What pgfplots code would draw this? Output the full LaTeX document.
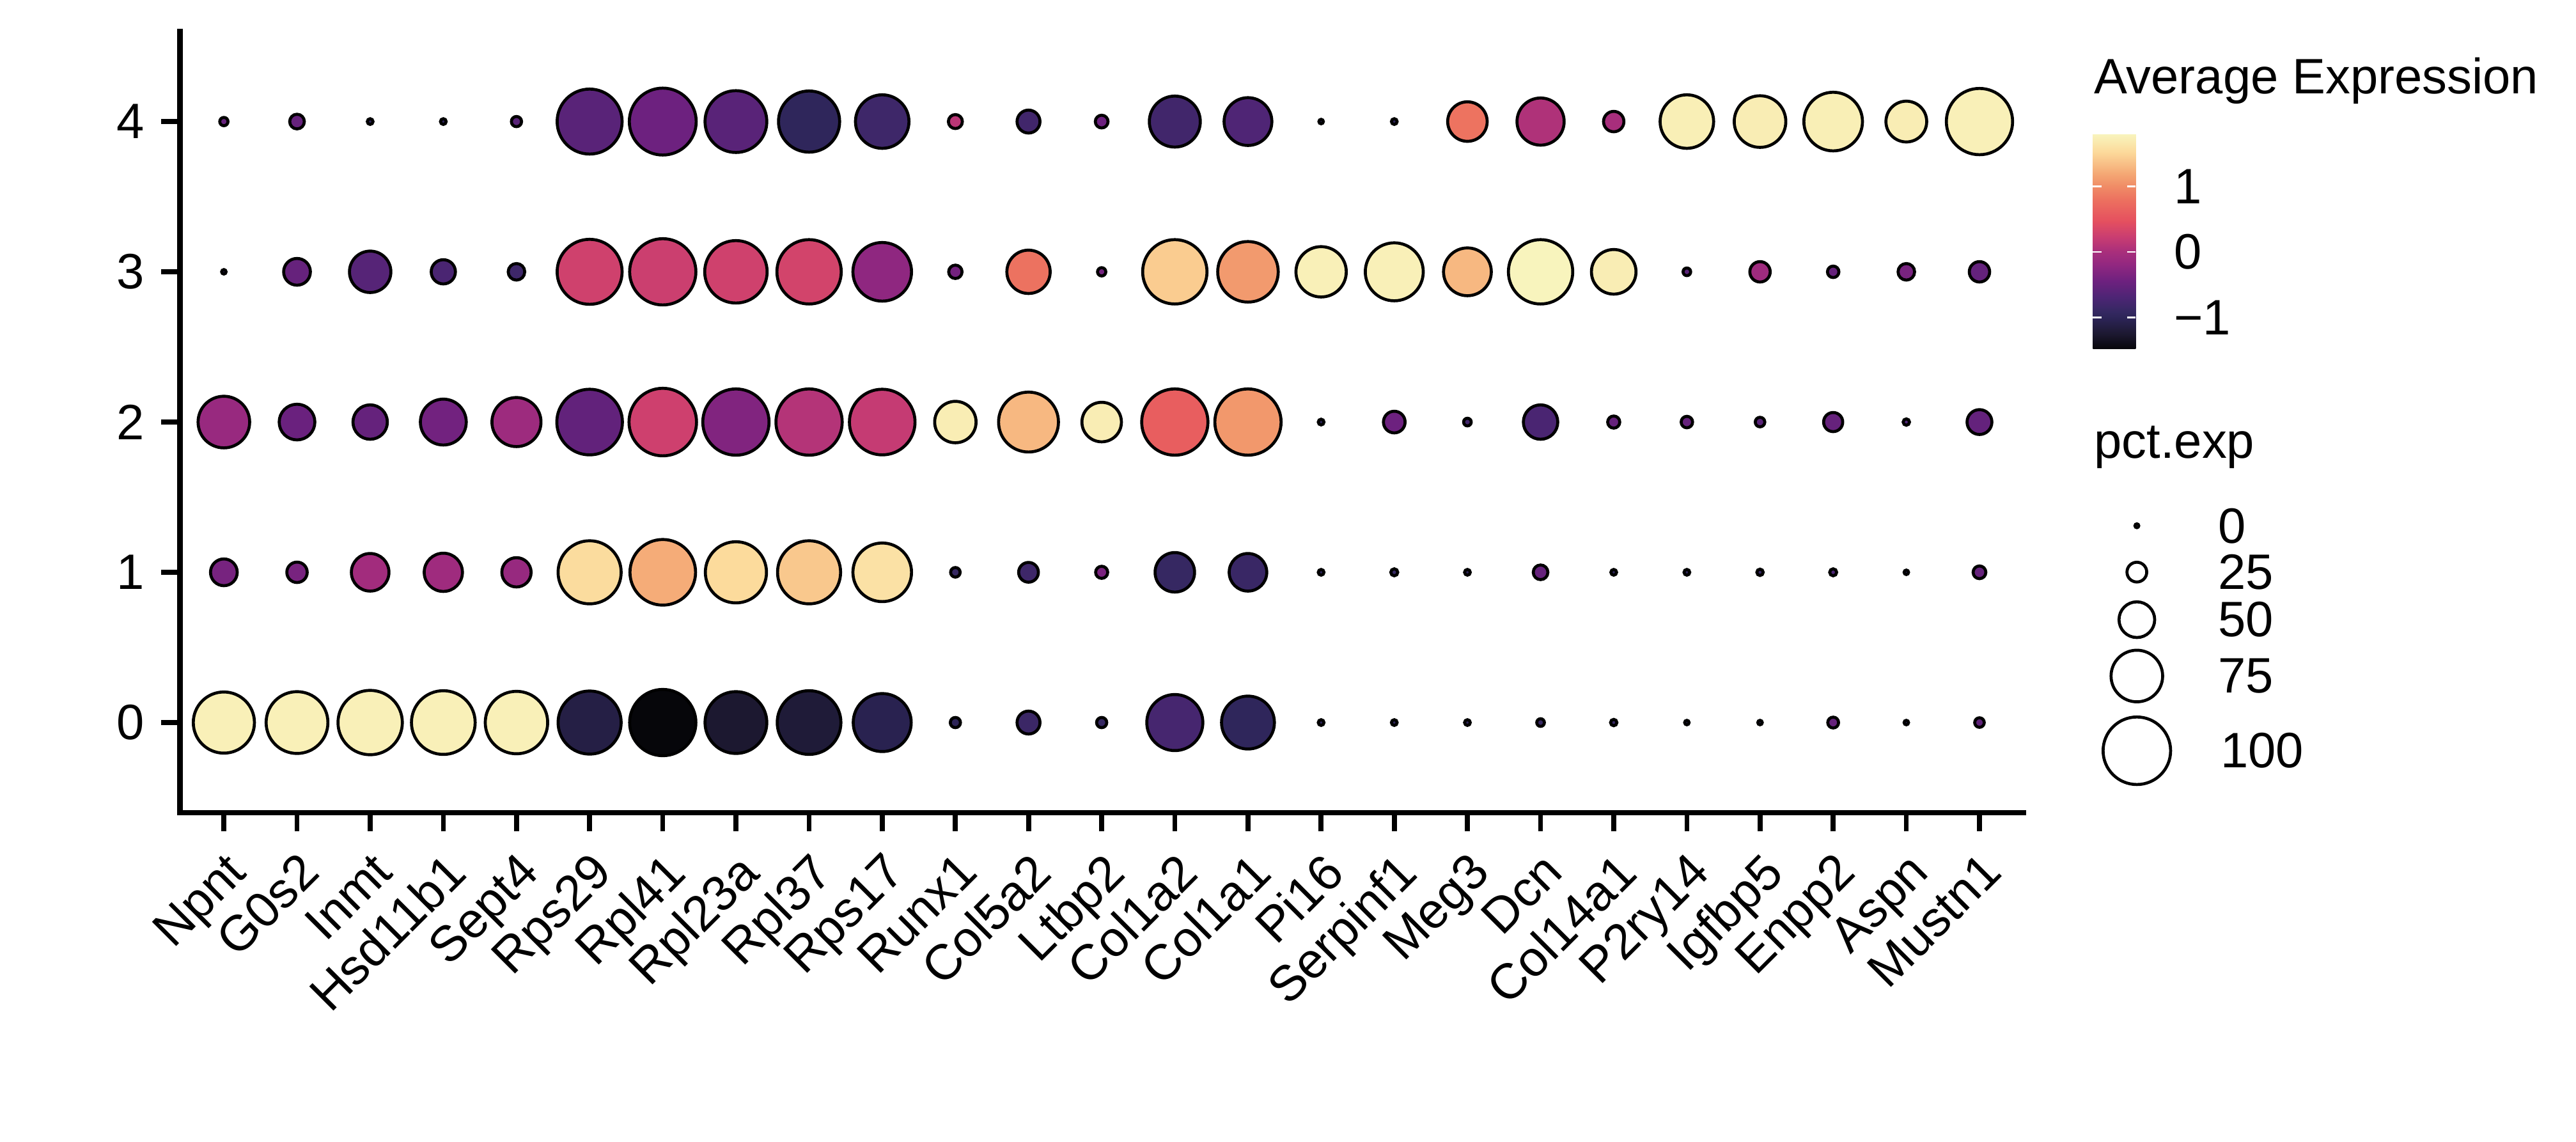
\documentclass[border=0pt]{standalone}
\usepackage{fontspec}
\setmainfont{Liberation Sans}
\usepackage{pgfplots}
\usepackage{pgfplotstable}
\pgfplotsset{compat=1.18}
\newcommand{\chartfont}{\fontsize{12.5}{15}\selectfont}

% cluster rows: x = gene index, y = cluster, pct = percent expressed, avg = scaled average expression
\pgfplotstableread{
x y pct avg
0 0 90 1.75
1 0 91 1.75
2 0 95 1.75
3 0 94 1.75
4 0 92 1.75
5 0 93 -1.12
6 0 98 -1.48
7 0 91 -1.25
8 0 94 -1.20
9 0 85 -1.05
10 0 10 -1.00
11 0 30 -0.85
12 0 10 -0.90
13 0 82 -0.75
14 0 77 -0.97
15 0 3 -1.00
16 0 3 -1.00
17 0 3 -1.00
18 0 6 -0.90
19 0 4 -0.90
20 0 1 -1.00
21 0 1 -1.00
22 0 11 -0.50
23 0 1 -1.00
24 0 9 -0.55
}\clzero
\pgfplotstableread{
x y pct avg
0 1 36 -0.38
1 1 26 -0.37
2 1 53 -0.05
3 1 54 -0.08
4 1 40 -0.15
5 1 93 1.55
6 1 97 1.22
7 1 90 1.53
8 1 93 1.40
9 1 86 1.60
10 1 9 -0.90
11 1 25 -0.82
12 1 13 -0.35
13 1 56 -0.90
14 1 53 -0.87
15 1 3 -1.00
16 1 5 -0.90
17 1 3 -1.00
18 1 17 -0.50
19 1 3 -1.00
20 1 3 -1.00
21 1 4 -0.90
22 1 5 -0.70
23 1 1 -1.00
24 1 14 -0.50
}\clone
\pgfplotstableread{
x y pct avg
0 2 75 -0.14
1 2 50 -0.47
2 2 48 -0.51
3 2 66 -0.41
4 2 71 -0.10
5 2 97 -0.53
6 2 100 0.27
7 2 98 -0.31
8 2 98 0.08
9 2 97 0.20
10 2 59 1.72
11 2 88 1.30
12 2 56 1.72
13 2 98 0.61
14 2 98 1.08
15 2 3 -1.00
16 2 28 -0.45
17 2 6 -0.80
18 2 48 -0.72
19 2 13 -0.50
20 2 12 -0.50
21 2 9 -0.60
22 2 24 -0.50
23 2 4 -0.70
24 2 33 -0.52
}\cltwo
\pgfplotstableread{
x y pct avg
0 3 1 -1.00
1 3 36 -0.50
2 3 59 -0.62
3 3 32 -0.72
4 3 20 -0.82
5 3 96 0.28
6 3 98 0.25
7 3 92 0.28
8 3 95 0.31
9 3 86 -0.21
10 3 15 -0.40
11 3 62 0.80
12 3 7 -0.40
13 3 95 1.43
14 3 89 1.10
15 3 73 1.75
16 3 85 1.75
17 3 69 1.30
18 3 95 1.79
19 3 64 1.72
20 3 6 -0.60
21 3 26 -0.08
22 3 12 -0.50
23 3 20 -0.37
24 3 26 -0.52
}\clthree
\pgfplotstableread{
x y pct avg
0 4 7 -0.50
1 4 17 -0.50
2 4 3 -1.00
3 4 3 -1.00
4 4 10 -0.60
5 4 96 -0.60
6 4 99 -0.45
7 4 91 -0.60
8 4 90 -0.97
9 4 78 -0.82
10 4 16 0.12
11 4 30 -0.80
12 4 14 -0.45
13 4 74 -0.80
14 4 69 -0.68
15 4 1 -1.00
16 4 3 -1.00
17 4 56 0.81
18 4 68 0.05
19 4 26 0.00
20 4 78 1.74
21 4 75 1.72
22 4 86 1.74
23 4 58 1.72
24 4 98 1.75
}\clfour
\pgfplotstableread{
x y pct
489.7 71.8 0
489.7 60.2 25
489.7 48.3 50
489.7 34.2 75
489.7 15.5 100
}\sizelegend

\pgfplotsset{
  colormap={refmagma}{
    rgb255(0pt)=(6,6,10)
    rgb255(7pt)=(28,24,48)
    rgb255(14.3pt)=(44,36,86)
    rgb255(17pt)=(51,40,96)
    rgb255(23.8pt)=(76,37,116)
    rgb255(31.7pt)=(110,33,127)
    rgb255(39.7pt)=(148,40,128)
    rgb255(44.9pt)=(167,46,124)
    rgb255(51.6pt)=(199,60,114)
    rgb255(59.5pt)=(229,80,95)
    rgb255(68.7pt)=(236,110,95)
    rgb255(75.6pt)=(240,140,102)
    rgb255(81.3pt)=(244,167,116)
    rgb255(91.3pt)=(252,217,154)
    rgb255(100pt)=(248,245,190)},
  dot/.style={scatter, only marks, mark=*,
    scatter/use mapped color={draw=black, fill=mapped color},
    mark options={line width=0.75bp},
    visualization depends on={\thisrow{pct}\as\pct},
    scatter/@pre marker code/.append style={/tikz/mark size={0.48+0.08*\pct}},
    point meta=\thisrow{avg}},
}

\begin{document}
\begin{tikzpicture}
\begin{axis}[
  at={(0,0)}, anchor=south west,
  scale only axis, width=461.3bp, height=195.5bp,
  xmin=-0.6, xmax=24.6, ymin=-0.6, ymax=4.6,
  axis x line*=bottom, axis y line*=left,
  axis line style={-, line width=1.33bp, line cap=rect},
  xtick={0,...,24},
  xticklabels={Npnt,G0s2,Inmt,Hsd11b1,Sept4,Rps29,Rpl41,Rpl23a,Rpl37,Rps17,Runx1,Col5a2,Ltbp2,Col1a2,Col1a1,Pi16,Serpinf1,Meg3,Dcn,Col14a1,P2ry14,Igfbp5,Enpp2,Aspn,Mustn1},
  ytick={0,...,4}, yticklabels={0,1,2,3,4},
  tick align=outside, major tick length=4.64bp,
  tick style={black, line width=1.23bp},
  xticklabel style={font=\chartfont, rotate=45, anchor=north east, inner sep=0pt},
  yticklabel style={font=\chartfont, anchor=east, inner sep=0pt},
  xticklabel shift=4.5bp, yticklabel shift=4.1bp,
  clip=false,
  colormap name=refmagma,
  point meta min=-1.48, point meta max=1.80,
  colorbar,
  colorbar style={
    at={(470.2bp,116.0bp)}, anchor=south west,
    scale only axis, width=10.7bp, height=53.9bp,
    axis line style={draw=none},
    ytick={-1,0,1}, yticklabels={−1,0,1},
    ytick pos=both, yticklabel pos=right,
    tick align=inside, major tick length=2.2bp,
    tick style={white, line width=0.45bp},
    yticklabel style={font=\chartfont, anchor=west, inner sep=0pt},
    yticklabel shift=9.4bp,
  },
]
\addplot[dot] table[x=x, y=y] {\clzero};
\addplot[dot] table[x=x, y=y] {\clone};
\addplot[dot] table[x=x, y=y] {\cltwo};
\addplot[dot] table[x=x, y=y] {\clthree};
\addplot[dot] table[x=x, y=y] {\clfour};
\end{axis}

\begin{axis}[
  at={(0,0)}, anchor=south west,
  hide axis, x=1bp, y=1bp,
  xmin=0, xmax=600, ymin=0, ymax=205,
  clip=false,
]
\addplot[scatter, only marks, mark=*,
  scatter/use mapped color={draw=black, fill=white},
  mark options={line width=0.75bp},
  visualization depends on={\thisrow{pct}\as\pct},
  scatter/@pre marker code/.append style={/tikz/mark size={0.48+0.08*\pct}},
  point meta=\thisrow{pct}] table[x=x, y=y] {\sizelegend};
\node[anchor=base west, inner sep=0pt, font=\chartfont] at (axis cs:478.8,180.0) {Average Expression};
\node[anchor=base west, inner sep=0pt, font=\chartfont] at (axis cs:478.8,88.8) {pct.exp};
\node[anchor=west, inner sep=0pt, font=\chartfont] at (axis cs:509.8,71.8) {0};
\node[anchor=west, inner sep=0pt, font=\chartfont] at (axis cs:509.8,60.2) {25};
\node[anchor=west, inner sep=0pt, font=\chartfont] at (axis cs:509.8,48.3) {50};
\node[anchor=west, inner sep=0pt, font=\chartfont] at (axis cs:509.8,34.2) {75};
\node[anchor=west, inner sep=0pt, font=\chartfont] at (axis cs:510.5,15.5) {100};
\end{axis}

\pgfresetboundingbox
\path[use as bounding box] (-45.04bp,-82.4bp) rectangle (599.6bp,203.36bp);
\end{tikzpicture}
\end{document}
